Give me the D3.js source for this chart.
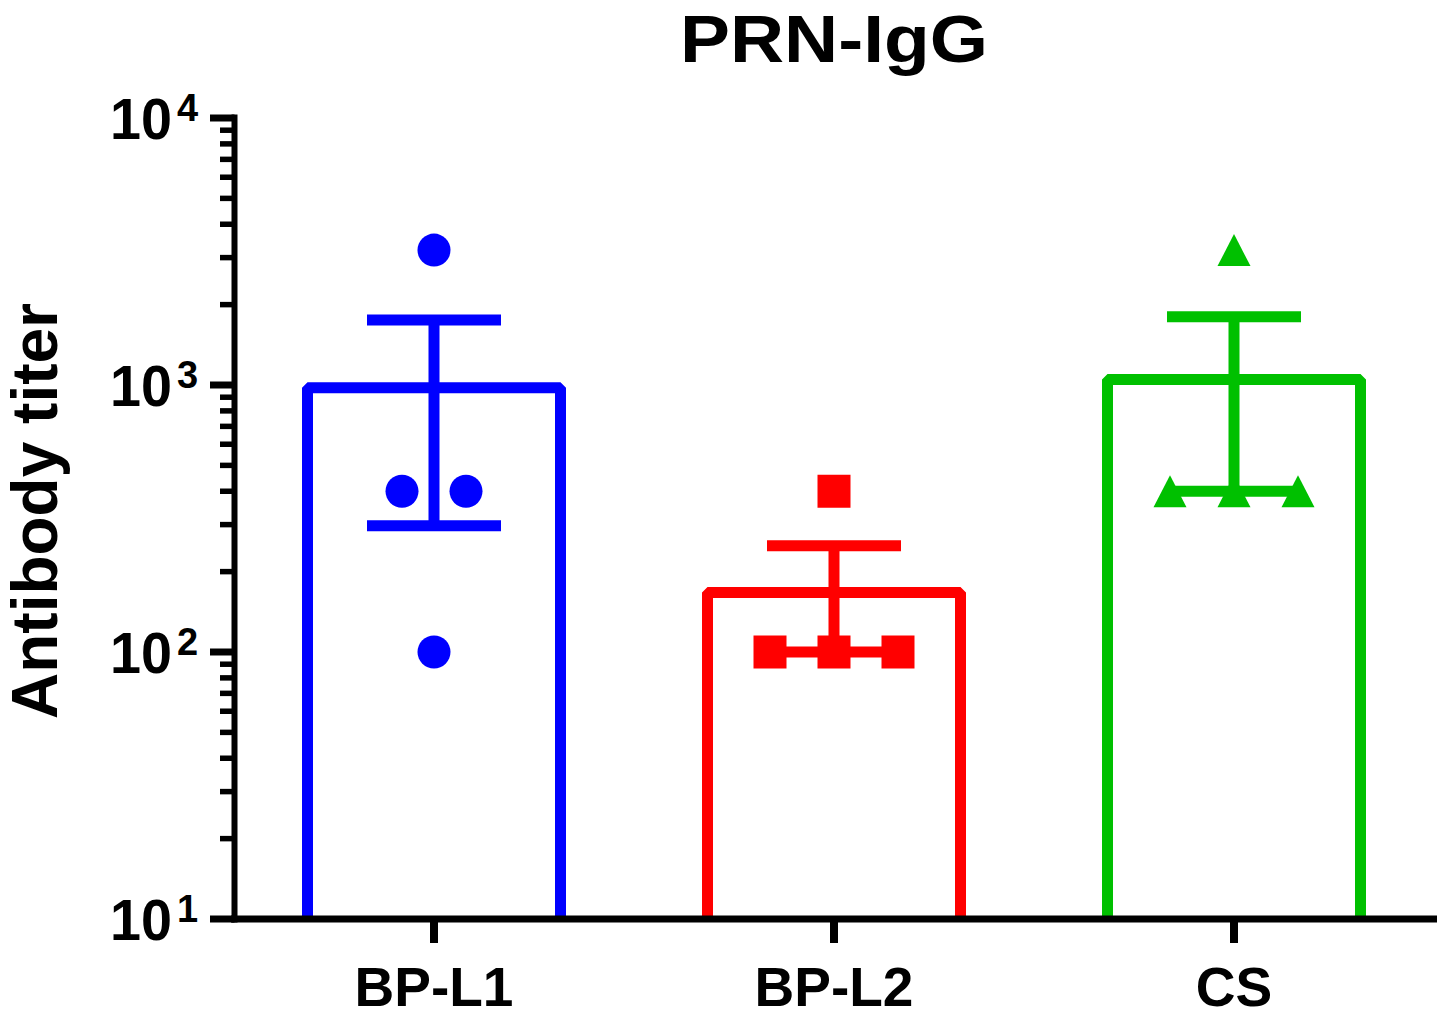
<!DOCTYPE html>
<html>
<head>
<meta charset="utf-8">
<script src="https://cdn.jsdelivr.net/npm/d3@7"></script>
<style>
  body { margin: 0; background: white; }
  text { font-family: 'Liberation Sans', Arial, sans-serif; font-weight: bold; fill: black; }
</style>
</head>
<body>
<div id="container"></div>
<script>
// values
let groups = ['BP-L1', 'BP-L2', 'CS'];
let means = [1025, 175, 1100];
let upper = [1753, 250, 1800];
let lower = [297, 100, 400];
let points = [
    [3200, 400, 400, 100],
    [400, 100, 100, 100],
    [3200, 400, 400, 400]
];
let colors = ['#0000ff', '#ff0000', '#00c000'];
let shapes = ['circle', 'square', 'triangle'];
let yTicks = [10, 100, 1000, 10000];

let viz = d3.select('#container')
    .append('svg')
    .attr('width', 1443)
    .attr('height', 1018)
    ;

let x = d3.scaleBand().domain(groups).range([234, 1434]);
let y = d3.scaleLog().domain([10, 10000]).range([919, 118]);

let barHalf = 126.5;
let sw = 11;

// bars (open at the bottom)
groups.forEach(function (g, i) {
    let cx = x(g) + x.bandwidth() / 2;
    let top = y(means[i]) + sw / 2;
    viz.append('path')
        .attr('d', 'M ' + (cx - barHalf) + ' ' + y(10) + ' L ' + (cx - barHalf) + ' ' + top +
            ' L ' + (cx + barHalf) + ' ' + top + ' L ' + (cx + barHalf) + ' ' + y(10))
        .attr('fill', 'none')
        .attr('stroke', colors[i])
        .attr('stroke-width', sw)
        .attr('stroke-linejoin', 'bevel');
});

// error bars
groups.forEach(function (g, i) {
    let cx = x(g) + x.bandwidth() / 2;
    let eb = viz.append('g').attr('stroke', colors[i]).attr('stroke-width', sw);
    eb.append('line').attr('x1', cx).attr('x2', cx).attr('y1', y(upper[i])).attr('y2', y(lower[i]));
    eb.append('line').attr('x1', cx - 67).attr('x2', cx + 67).attr('y1', y(upper[i])).attr('y2', y(upper[i]));
    eb.append('line').attr('x1', cx - 67).attr('x2', cx + 67).attr('y1', y(lower[i])).attr('y2', y(lower[i]));
});

// points: equal values are spread side by side
function spread(vals) {
    let out = [];
    let counts = d3.rollup(vals, v => v.length, v => v);
    let seen = new Map();
    vals.forEach(function (v) {
        let n = counts.get(v);
        let k = seen.get(v) || 0;
        seen.set(v, k + 1);
        out.push({ v: v, off: (k - (n - 1) / 2) * 64 });
    });
    return out;
}

function shapePath(s) {
    if (s == 'circle') {
        return 'M -16.5 0 A 16.5 16.5 0 1 0 16.5 0 A 16.5 16.5 0 1 0 -16.5 0 z';
    }
    if (s == 'square') {
        return 'M -16.5 -16.5 L 16.5 -16.5 L 16.5 16.5 L -16.5 16.5 z';
    }
    if (s == 'triangle') {
        return 'M 0 -16 L 16.5 16 L -16.5 16 z';
    }
}

groups.forEach(function (g, i) {
    let cx = x(g) + x.bandwidth() / 2;
    viz.append('g').selectAll('path').data(spread(points[i])).enter()
        .append('path')
        .attr('d', shapePath(shapes[i]))
        .attr('fill', colors[i])
        .attr('transform', d => 'translate(' + (cx + d.off) + ',' + y(d.v) + ')');
});

// y axis
let axisX = 234.5;
viz.append('line')
    .attr('x1', axisX).attr('x2', axisX)
    .attr('y1', y(10000) - 3.5).attr('y2', y(10) + 3.5)
    .attr('stroke', 'black').attr('stroke-width', 6);

let minor = [];
[10, 100, 1000].forEach(function (d) {
    for (let m = 2; m <= 9; m++) minor.push(d * m);
});
viz.append('g').selectAll('line').data(minor).enter()
    .append('line')
    .attr('x1', 220).attr('x2', axisX)
    .attr('y1', d => y(d)).attr('y2', d => y(d))
    .attr('stroke', 'black').attr('stroke-width', 5.5);

viz.append('g').selectAll('line').data(yTicks).enter()
    .append('line')
    .attr('x1', 210).attr('x2', axisX)
    .attr('y1', d => y(d)).attr('y2', d => y(d))
    .attr('stroke', 'black').attr('stroke-width', 7);

let labels = viz.append('g').selectAll('g').data(yTicks).enter()
    .append('g')
    .attr('transform', d => 'translate(0,' + y(d) + ')');
labels.append('text')
    .attr('x', 172).attr('y', 21)
    .attr('text-anchor', 'end')
    .attr('textLength', 62)
    .attr('lengthAdjust', 'spacingAndGlyphs')
    .style('font-size', '57px')
    .text('10');
labels.append('text')
    .attr('x', 177).attr('y', 3)
    .style('font-size', '38px')
    .text(d => Math.round(Math.log10(d)));

// x axis
viz.append('line')
    .attr('x1', 231).attr('x2', 1437)
    .attr('y1', y(10)).attr('y2', y(10))
    .attr('stroke', 'black').attr('stroke-width', 7);

viz.append('g').selectAll('line').data(groups).enter()
    .append('line')
    .attr('x1', d => x(d) + x.bandwidth() / 2).attr('x2', d => x(d) + x.bandwidth() / 2)
    .attr('y1', y(10)).attr('y2', 943)
    .attr('stroke', 'black').attr('stroke-width', 8);

viz.append('g').selectAll('text').data(groups).enter()
    .append('text')
    .attr('x', d => x(d) + x.bandwidth() / 2)
    .attr('y', 1006)
    .attr('text-anchor', 'middle')
    .style('font-size', '55px')
    .text(d => d);

// title and y label
viz.append('text')
    .attr('x', 834).attr('y', 62)
    .attr('text-anchor', 'middle')
    .attr('textLength', 308)
    .attr('lengthAdjust', 'spacingAndGlyphs')
    .style('font-size', '66px')
    .text('PRN-IgG');

viz.append('text')
    .attr('transform', 'translate(57,511) rotate(-90)')
    .attr('text-anchor', 'middle')
    .style('font-size', '64px')
    .text('Antibody titer');
</script>
</body>
</html>
